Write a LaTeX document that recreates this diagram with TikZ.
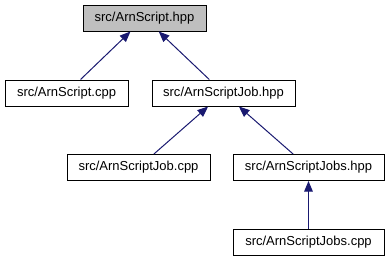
\documentclass[tikz,border=0pt]{standalone}
\usepackage{fontspec}
\setmainfont{Liberation Sans}
\usetikzlibrary{arrows.meta}

\definecolor{azulnoche}{HTML}{191970}

\begin{document}
\begin{tikzpicture}[x=0.75pt, y=-0.75pt,
% Estilo de los ficheros
fichero/.style={rectangle, draw=black, line width=0.75pt, inner sep=0pt, minimum height=19.5pt, font=\fontsize{9.75}{12}\selectfont},
% Estilo del fichero principal
principal/.style={fichero, fill=black!25},
% Estilo de las flechas
flecha/.style={-{Triangle[length=8pt, width=6.5pt]}, color=azulnoche, line width=0.75pt},
]
\useasboundingbox (0,0) rectangle (389,261);

% Nodos
\node (hpp) at (144.5,18) [principal, minimum width=92.25pt]{src/ArnScript.hpp};
\node (cpp) at (66.5,93) [fichero, minimum width=92.25pt]{src/ArnScript.cpp};
\node (jobhpp) at (223.5,93) [fichero, minimum width=107.25pt]{src/ArnScriptJob.hpp};
\node (jobcpp) at (138.5,167.5) [fichero, minimum width=107.25pt]{src/ArnScriptJob.cpp};
\node (jobshpp) at (308.5,167.5) [fichero, minimum width=113.25pt]{src/ArnScriptJobs.hpp};
\node (jobscpp) at (308.5,242.5) [fichero, minimum width=113.25pt]{src/ArnScriptJobs.cpp};

% Flechas
\draw[flecha] (cpp) -- (hpp);
\draw[flecha] (jobhpp) -- (hpp);
\draw[flecha] (jobcpp) -- (jobhpp);
\draw[flecha] (jobshpp) -- (jobhpp);
\draw[flecha] (jobscpp) -- (jobshpp);
\end{tikzpicture}
\end{document}
